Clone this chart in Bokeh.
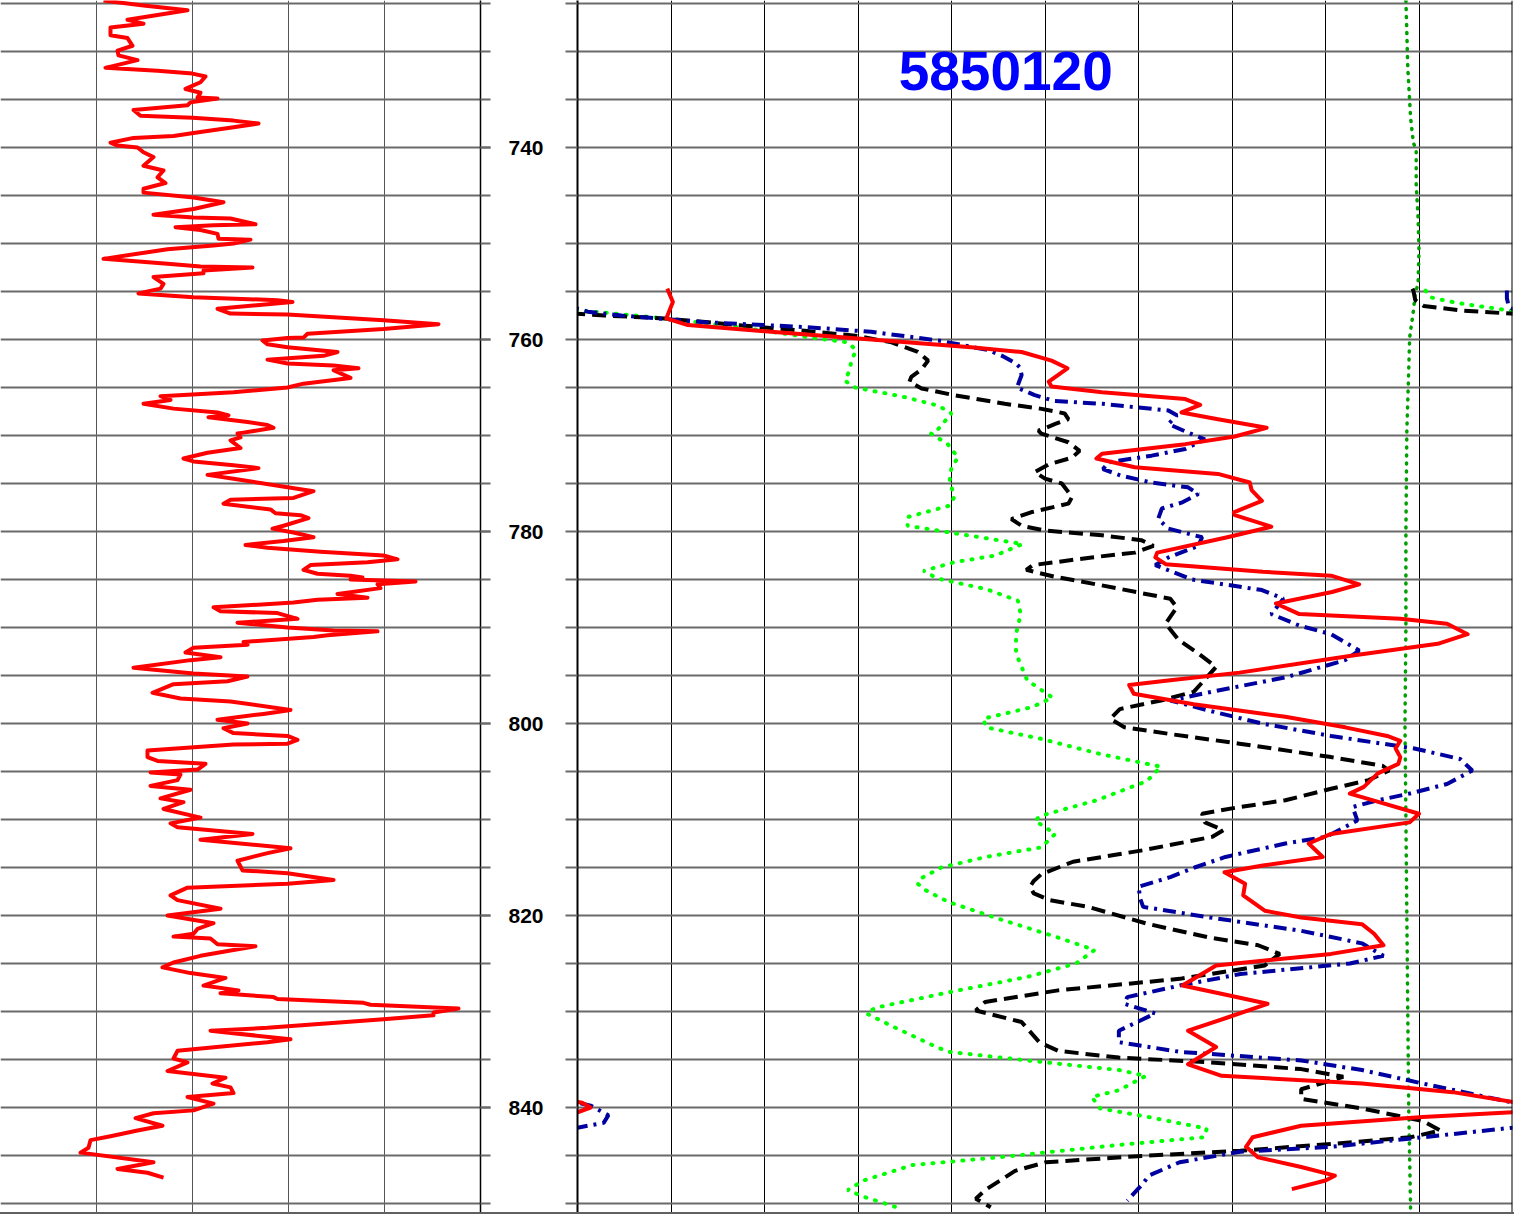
import numpy as np
from bokeh.plotting import figure
from bokeh.models import Range1d, FixedTicker, Span, Label
from bokeh.layouts import row
from bokeh.embed import file_html
from bokeh.resources import INLINE

# ---------------- data ----------------
WELL_ID = "5850120"
DEPTH_LABELS = [740, 760, 780, 800, 820, 840]
DEPTH_GRID = list(range(725, 855, 5))

# left track: gamma ray (depth, API)
gr_log = [
    (724.7,51.5),(725.2,71.5),(725.7,93.5),(726.7,63.5),(727.1,71.5),(727.5,55),(728.3,55),(728.6,63.5),(729.4,66),(729.9,58.5),
    (730.4,59),(730.9,68.5),(731.7,52.5),(732.0,78.5),(732.3,96),(732.6,102.5),(733.2,100),(733.9,92.5),(734.3,100),(734.8,98.5),
    (734.9,108.5),(735.3,95),(735.6,93.5),(736.1,66.5),(736.7,70),(736.9,96),(737.2,116.5),(737.5,129),(737.9,116.5),(738.5,96.5),
    (738.8,86.5),(739.0,66.5),(739.5,55),(739.8,58.5),(740.0,68.5),(740.5,71.5),(741.0,76.5),(741.9,71.5),(742.4,81.5),(743.1,78.5),
    (743.7,82.5),(744.3,71.5),(744.7,71.5),(745.2,96.5),(745.7,111.5),(746.4,96.5),(747.0,76.5),(747.3,96.5),(747.4,115),(748.0,127.5),
    (748.1,106.5),(748.3,87.5),(748.6,100),(749.0,108.5),(749.5,109),(749.6,125),(750.0,116.5),(750.2,106.5),(750.6,83.5),(751.6,51.5),
    (752.1,83.5),(752.4,100),(752.5,126),(752.8,101.5),(753.1,101.5),(753.5,76.5),(754.2,81.5),(754.7,80),(755.2,69),(755.6,96.5),
    (755.9,138.5),(756.1,146),(756.8,108.5),(757.3,115),(757.4,143.5),(758.0,191.5),(758.4,219),(758.9,191.5),(759.4,153.5),(759.8,151.5),
    (759.85,143.5),(760.1,131),(760.5,133.5),(760.8,143.5),(761.3,168.5),(761.7,161.5),(762.1,133.5),(762.5,143.5),(762.7,166.5),(763.0,179),
    (763.2,166.5),(764.0,175),(764.6,151.5),(765.0,143.5),(765.5,116.5),(765.9,80),(766.3,85),(766.7,71.5),(767.2,86.5),(767.6,108.5),
    (767.9,114),(768.1,104),(768.6,123.5),(768.9,133.5),(769.2,136.5),(769.7,121.5),(769.8,118.5),(770.2,120),(770.5,115),(771.3,120),
    (771.8,103.5),(772.4,91.5),(772.7,96.5),(773.1,116.5),(773.4,129),(774.1,103.5),(774.5,116.5),(775.4,143.5),(775.8,156.5),(776.5,146.5),
    (776.7,115),(777.1,111.5),(777.7,135),(778.1,137.5),(778.3,150),(778.6,154),(779.4,141.5),(779.7,136),(780.1,146.5),(780.6,156.5),
    (781.0,141.5),(781.4,122.5),(781.7,133.5),(782.1,160),(782.5,191.5),(782.9,198.5),(783.2,183.5),(783.5,155),(784.0,151.5),(784.4,158.5),
    (784.6,175),(784.8,181),(785.0,175),(785.2,207.5),(785.5,188.5),(785.9,190),(786.5,168.5),(786.9,183.5),(787.1,158.5),(787.4,146.5),
    (787.9,106.5),(788.3,110),(788.5,138.5),(789.1,148.5),(789.5,118.5),(790.0,143.5),(790.3,166.5),(790.4,188.5),(790.8,163.5),(791.0,156.5),
    (791.5,121.5),(791.8,123.5),(792.1,96.5),(792.6,92.5),(793.1,110),(793.4,95),(794.2,66.5),(794.8,96.5),(795.1,123.5),(795.6,113.5),
    (795.9,86.5),(796.8,76),(797.4,90),(797.7,115),(798.6,145),(799.0,131.5),(799.6,108.5),(800.0,123.5),(800.5,111.5),(801.0,116.5),
    (801.3,143.5),(801.7,148.5),(802.1,143.5),(802.2,116.5),(802.8,73.5),(803.5,73.5),(803.9,78.5),(804.2,102.5),(804.8,98.5),(805.1,75),
    (805.3,90),(805.9,88.5),(806.5,75),(806.9,95),(807.8,80),(808.2,91.5),(808.9,81.5),(809.8,100),(810.4,85),(810.8,88.5),
    (811.5,126),(812.1,100),(813.0,145),(813.5,133.5),(814.3,118.5),(815.3,121),(815.6,143.5),(816.3,166.5),(816.7,143.5),(817.1,93.5),
    (817.9,85),(818.4,88.5),(819.3,110),(820.0,83.5),(820.8,106.5),(821.4,98.5),(821.9,96.5),(822.2,86.5),(822.4,105),(823.0,108.5),
    (823.2,127.5),(823.6,116.5),(824.2,100),(824.9,86.5),(825.4,81),(826.0,95),(826.5,112.5),(827.3,101.5),(827.8,119),(828.1,110),
    (828.5,136.5),(828.7,138.5),(829.1,181.5),(829.3,185),(829.7,229),(830.1,216.5),(830.4,216.5),(830.8,191.5),(831.7,133.5),(832.0,105),
    (832.9,145),(833.2,133.5),(834.1,88.5),(834.9,86.5),(835.3,93.5),(836.2,83.5),(836.9,112.5),(837.5,106),(837.9,115),(838.5,116.5),
    (838.9,93.5),(839.6,106.5),(840.3,96.5),(840.6,76.5),(841.1,67.5),(841.9,81),(842.4,68.5),(843.0,55),(843.4,45),(844.2,44),
    (844.7,40),(845.7,76.5),(846.4,58.5),(846.8,73.5),(847.3,81.5),
]

# right track curves (depth, track value in divisions 0-10, wrap-around beyond)
red_log = [
    (754.7,0.96),(756.1,1.02),(757.8,0.95),(758.5,1.18),(759.2,2.07),(760.0,3.14),(760.8,4.21),(761.3,4.75),(762.2,5.07),(763.0,5.24),
    (764.4,5.04),(764.9,5.07),(765.5,5.61),(766.2,6.50),(766.8,6.66),(767.6,6.46),(768.3,6.85),(769.2,7.37),(770.1,7.03),(770.9,6.50),
    (771.9,5.61),(772.4,5.55),(773.3,5.96),(774.0,6.85),(774.9,7.19),(775.7,7.21),(776.8,7.32),(778.0,7.02),(778.3,7.03),(779.5,7.42),
    (780.6,6.95),(782.2,6.20),(782.7,6.18),(783.4,6.29),(784.2,7.33),(784.6,8.06),(785.5,8.36),(786.3,8.07),(787.5,7.47),(788.6,7.72),
    (789.1,8.80),(789.6,9.30),(790.7,9.52),(791.7,9.20),(792.9,8.31),(794.7,7.08),(795.5,6.34),(796.0,5.90),(796.9,5.95),(798.0,6.59),
    (799.3,7.57),(800.4,8.21),(801.3,8.66),(801.8,8.80),(802.6,8.75),(803.5,8.80),(804.2,8.78),(805.2,8.56),(806.6,8.41),(807.3,8.26),
    (808.0,8.51),(809.4,9.00),(810.3,8.90),(811.5,8.06),(812.5,7.82),(813.9,7.97),(814.8,7.33),(815.5,6.92),(816.7,7.14),(817.9,7.12),
    (819.5,7.35),(820.2,7.74),(820.9,8.39),(821.9,8.52),(823.1,8.62),(824.0,8.06),(825.2,6.83),(827.3,6.47),(828.3,6.96),(829.2,7.38),
    (830.6,6.96),(832.0,6.53),(833.7,6.83),(835.5,6.53),(836.7,6.89),(837.5,8.39),(838.4,9.36),(839.5,10.05),(840.0,10.14),(840.5,10.00),
    (841.0,9.04),(841.9,7.74),(843.1,7.22),(844.1,7.15),(845.2,7.28),(846.2,7.74),(847.1,8.10),(847.6,8.00),(848.5,7.64),
]

blue_log = [
    (754.9,-0.06),(755.7,-0.06),(756.6,-0.04),(756.8,0.0),(757.1,0.11),(757.5,0.47),(758.2,1.36),(758.7,2.43),(759.2,3.14),(760.1,3.86),
    (761.1,4.39),(761.7,4.54),(762.5,4.69),(762.9,4.73),(763.7,4.75),(765.0,4.70),(765.8,4.89),(766.4,5.10),(766.7,5.61),(767.4,6.32),
    (767.9,6.41),(768.8,6.32),(769.7,6.53),(770.4,6.71),(771.4,6.50),(772.1,6.14),(772.8,5.68),(773.5,5.62),(774.2,5.82),(774.9,6.14),
    (775.4,6.53),(776.1,6.64),(777.0,6.46),(777.6,6.25),(778.7,6.21),(779.7,6.32),(780.6,6.68),(781.5,6.64),(782.7,6.32),(783.5,6.18),
    (785.0,6.57),(786.1,7.32),(787.0,7.55),(788.6,7.42),(789.8,7.72),(790.7,8.06),(792.4,8.36),(793.4,8.21),(795.2,7.57),(796.6,6.83),
    (797.6,6.34),(798.6,6.73),(800.0,7.32),(801.3,8.06),(802.6,8.95),(803.7,9.44),(804.9,9.57),(806.3,9.30),(807.3,8.90),(808.0,8.56),
    (808.7,8.29),(810.1,8.34),(811.8,8.01),(812.5,7.57),(813.9,6.93),(815.0,6.60),(816.0,6.34),(817.0,6.00),(818.3,6.02),(819.1,6.05),
    (820.2,6.76),(821.6,7.74),(822.9,8.39),(824.2,8.62),(825.0,8.26),(826.1,7.09),(827.3,6.44),(828.5,5.88),(829.2,5.85),(830.2,6.18),
    (832.0,5.79),(833.2,5.79),(834.2,6.44),(835.1,7.74),(836.1,8.39),(837.5,9.04),(839.5,10.01),(839.8,10.14),(840.8,10.33),(841.6,10.28),
    (841.9,10.11),(842.1,10.00),(843.1,9.04),(844.1,8.06),(844.6,7.09),(845.7,6.44),(847.1,6.11),(847.9,6.05),(849.7,5.88),
]

black_log = [
    (754.7,-1.07),(754.9,-1.06),(755.9,-1.04),(756.5,-0.95),(757.0,-0.52),(757.3,-0.02),(757.5,0.29),(757.8,0.93),(758.5,1.72),(759.1,2.43),
    (759.6,2.97),(760.3,3.36),(761.3,3.64),(762.2,3.75),(763.1,3.68),(763.9,3.57),(764.4,3.55),(765.1,3.68),(765.8,4.03),(766.7,4.57),
    (767.2,4.95),(767.7,5.21),(768.3,5.25),(768.8,5.11),(769.5,4.93),(769.8,4.96),(770.7,5.25),(771.6,5.37),(772.3,5.29),(773.0,5.04),
    (773.8,4.89),(774.5,5.00),(775.0,5.18),(776.4,5.29),(777.1,5.25),(778.0,4.85),(778.7,4.64),(779.4,4.75),(779.9,5.00),(780.4,5.61),
    (780.9,6.03),(781.5,6.16),(782.2,5.96),(782.7,5.50),(783.5,4.87),(784.0,4.80),(784.7,5.10),(785.6,5.60),(787.0,6.34),(787.9,6.41),
    (789.6,6.29),(791.3,6.43),(792.7,6.64),(794.1,6.83),(795.2,6.73),(796.7,6.59),(797.6,6.24),(798.5,5.80),(799.5,5.70),(800.4,5.85),
    (801.1,6.34),(802.1,7.08),(803.5,8.06),(804.4,8.61),(804.9,8.68),(805.9,8.46),(806.8,8.06),(808.0,7.57),(808.7,7.08),(809.4,6.68),
    (810.3,6.71),(811.1,6.91),(811.8,6.79),(813.2,6.05),(814.4,5.30),(815.7,4.96),(816.4,4.88),(817.0,4.84),(817.7,4.88),(818.4,5.05),
    (819.1,5.46),(820.9,6.11),(822.3,6.76),(823.1,7.28),(824.0,7.51),(825.2,7.35),(826.6,6.44),(827.8,5.14),(829.0,4.36),(829.9,4.26),
    (831.1,4.75),(833.2,4.94),(834.1,5.14),(834.8,5.79),(835.3,6.76),(836.0,7.74),(836.8,8.19),(838.1,7.74),(839.1,7.74),(840.1,8.39),
    (841.4,9.04),(842.4,9.23),(843.1,8.91),(843.8,8.06),(844.5,7.09),(845.0,6.11),(845.7,5.01),(846.6,4.68),(848.6,4.36),(849.5,4.26),
    (850.4,4.42),
]

lime_log = [
    (754.9,-0.93),(755.6,-0.88),(756.2,-0.59),(757.0,-0.02),(757.2,0.29),(757.8,0.93),(758.7,1.72),(759.8,2.50),(760.3,2.89),(761.1,2.98),
    (762.2,2.93),(763.2,2.91),(764.3,2.86),(765.0,2.97),(766.0,3.50),(766.9,3.86),(767.7,4.00),(769.3,3.86),(769.8,3.78),(770.9,3.96),
    (772.3,4.07),(773.3,4.00),(774.7,3.98),(776.4,4.03),(777.3,3.98),(778.5,3.53),(779.4,3.53),(780.1,3.98),(781.3,4.76),(782.5,4.47),
    (783.2,4.03),(784.1,3.70),(784.9,3.85),(786.0,4.37),(787.2,4.71),(788.6,4.74),(790.7,4.69),(792.7,4.69),(795.5,4.81),(797.3,5.08),
    (798.3,4.86),(799.5,4.34),(800.4,4.37),(801.6,4.96),(803.2,5.60),(804.5,6.24),(806.0,6.09),(808.0,5.55),(809.6,4.96),(810.1,4.89),
    (811.5,5.11),(812.9,4.96),(813.9,4.37),(815.0,3.89),(816.2,3.66),(816.7,3.64),(817.4,3.73),(818.6,3.97),(820.3,4.49),(822.3,5.14),
    (823.6,5.53),(825.0,5.33),(826.4,4.81),(828.0,3.97),(829.6,3.19),(830.2,3.09),(831.6,3.38),(833.7,3.84),(834.2,3.97),(835.1,4.81),
    (836.1,5.79),(836.7,6.08),(838.2,5.79),(838.9,5.50),(840.1,5.59),(841.0,6.11),(842.2,6.73),(843.1,6.70),(843.9,5.79),(845.2,4.49),
    (846.0,3.58),(847.6,3.06),(848.6,2.89),(849.3,3.06),(850.6,3.48),
]

green_log = [
    (724.7,8.86),(728.1,8.87),(731.7,8.88),(735.1,8.90),(736.9,8.91),(739.5,8.94),(740.3,8.97),(743.8,8.97),(747.3,8.99),(750.7,9.00),
    (754.2,8.99),(755.2,8.96),(757.0,8.94),(759.8,8.90),(763.2,8.89),(769.5,8.87),(780.0,8.86),(790.0,8.86),(800.0,8.85),(810.0,8.86),
    (820.0,8.87),(830.0,8.88),(840.0,8.89),(850.5,8.91),
]

# ---------------- layout ----------------
H = 1212
yr = Range1d(850.9375, 724.6875)
GRID_H = "#6a6a6a"

# left (gamma ray) track + depth column
p1 = figure(width=565, height=H, x_range=Range1d(0, 240), y_range=yr,
            output_backend="svg", toolbar_location=None,
            x_axis_location=None, y_axis_location="right",
            min_border_left=0, min_border_right=85, min_border_top=0, min_border_bottom=0)
p1.outline_line_color = None
ax = p1.yaxis[0]
ax.ticker = FixedTicker(ticks=DEPTH_LABELS, minor_ticks=DEPTH_GRID)
ax.major_tick_in = 0
ax.major_tick_out = 10
ax.minor_tick_in = 0
ax.minor_tick_out = 10
ax.major_tick_line_color = GRID_H
ax.minor_tick_line_color = GRID_H
ax.major_tick_line_width = 2
ax.minor_tick_line_width = 2
ax.axis_line_color = "black"
ax.axis_line_width = 1.5
ax.major_label_text_font = "Liberation Sans"
ax.major_label_text_font_style = "bold"
ax.major_label_text_font_size = "21px"
ax.major_label_text_color = "black"
ax.major_label_standoff = 18
p1.ygrid.ticker = FixedTicker(ticks=DEPTH_GRID)
p1.ygrid.grid_line_color = GRID_H
p1.ygrid.grid_line_width = 2
p1.xgrid.ticker = FixedTicker(ticks=[48, 96, 144, 192])
p1.xgrid.grid_line_color = "#555555"
p1.xgrid.grid_line_width = 1

gd, gv = zip(*gr_log)
p1.line(list(gv), list(gd), line_color="#ff0000", line_width=4, line_join="round")

# right track
p2 = figure(width=949, height=H, x_range=Range1d(0, 10), y_range=yr,
            output_backend="svg", toolbar_location=None,
            x_axis_location=None, y_axis_location="left",
            min_border_left=12, min_border_right=2, min_border_top=0, min_border_bottom=0)
p2.outline_line_color = None
ax2 = p2.yaxis[0]
ax2.ticker = FixedTicker(ticks=[], minor_ticks=DEPTH_GRID)
ax2.major_tick_in = 0
ax2.major_tick_out = 0
ax2.minor_tick_out = 12
ax2.minor_tick_in = 0
ax2.minor_tick_line_color = GRID_H
ax2.minor_tick_line_width = 2
ax2.major_label_standoff = 0
ax2.axis_line_color = "black"
ax2.axis_line_width = 2
p2.ygrid.ticker = FixedTicker(ticks=DEPTH_GRID)
p2.ygrid.grid_line_color = GRID_H
p2.ygrid.grid_line_width = 2
p2.xgrid.ticker = FixedTicker(ticks=[1, 2, 3, 4, 5, 6, 7, 8, 9])
p2.xgrid.grid_line_color = "black"
p2.xgrid.grid_line_width = 1
p2.add_layout(Span(location=10, dimension="height", line_color="black", line_width=2))


def wrapped_line(p, log, **kw):
    d, v = zip(*log)
    v = np.asarray(v, dtype=float)
    for shift in (-10, 0, 10):
        p.line(list(v + shift), list(d), **kw)


wrapped_line(p2, green_log, line_color="#00a000", line_width=3.5, line_dash="1 7", line_cap="round")
wrapped_line(p2, lime_log, line_color="#00ff00", line_width=4, line_dash="1 9", line_cap="round")
wrapped_line(p2, black_log, line_color="black", line_width=4, line_dash="14 7")
wrapped_line(p2, blue_log, line_color="#0000a0", line_width=4, line_dash="13 6 3 6")
wrapped_line(p2, red_log, line_color="#ff0000", line_width=4, line_join="round")

p2.add_layout(Label(x=4.58, y=732.0, text=WELL_ID, text_font="Liberation Sans",
                    text_font_style="bold", text_font_size="55px", text_color="#0000ff",
                    text_align="center", text_baseline="middle"))

layout = row(p1, p2, styles={"border-bottom": "2px solid #606060"})
open("out.html", "w").write(file_html(layout, INLINE))
